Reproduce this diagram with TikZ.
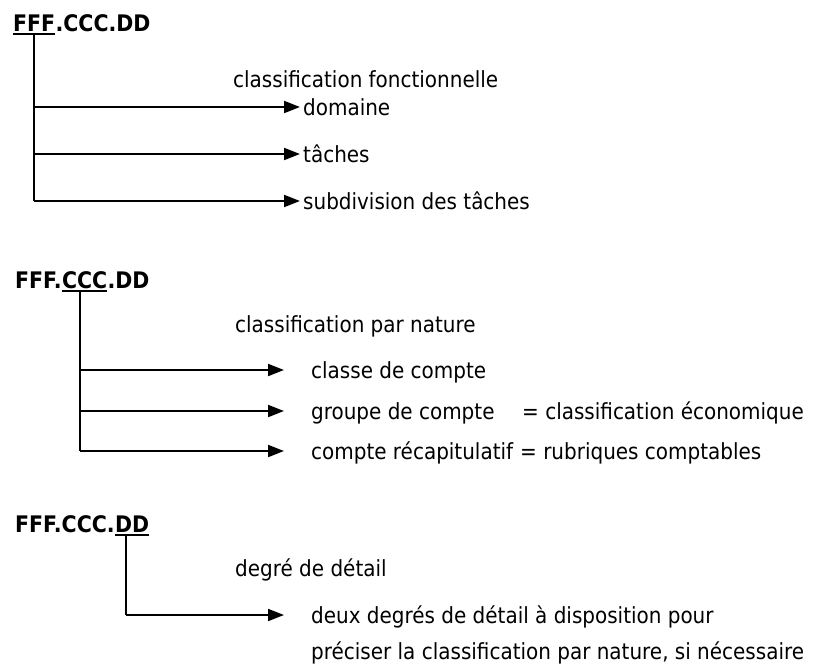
\documentclass[tikz,border=0pt]{standalone}
\usepackage{fontspec}
\setmainfont{DejaVu Sans Condensed}
\usepackage{tikz}
\usetikzlibrary{arrows.meta,positioning,calc}
\newcommand{\codefont}{\fontsize{22.8}{27}\selectfont\bfseries}
\newcommand{\lblfont}{\fontsize{22.2}{27}\selectfont}
\tikzset{
  % code header text (FFF.CCC.DD)
  codetxt/.style={font=\codefont, inner sep=0pt, anchor=base west},
  % underlined part of the code
  ulpart/.style={codetxt, inner ysep=2.5pt},
  % underline rule
  uline/.style={line width=2pt},
  % plain text label
  lbl/.style={font=\lblfont, inner sep=0pt, anchor=west, text height=16pt, text depth=0pt},
  % vertical stem
  stem/.style={line width=2pt},
  % branch arrow
  branch/.style={-{Triangle[length=16pt,width=12pt]}, line width=2pt, shorten >=#1},
  branch/.default={3pt},
}
\begin{document}
\begin{tikzpicture}[x=1pt, y=-1pt]
  \useasboundingbox (0,0) rectangle (819,664);

  % ── Block 1: FFF ──
  \node[ulpart] (u1) at (13,31) {FFF};
  \node[codetxt] (r1) at (u1.base east) {.CCC.DD};
  \draw[uline] (u1.south west) -- (u1.south east);
  \coordinate (s1) at (u1.south);

  \node[lbl] (t1) at (233,79) {classification fonctionnelle};
  \node[lbl] (dom) at (303,107) {domaine};
  \node[lbl] (tac) at (303,154) {tâches};
  \node[lbl] (sub) at (303,201) {subdivision des tâches};

  \draw[stem] (s1) -- (s1 |- sub.west);
  \draw[branch] (s1 |- dom.west) -- (dom.west);
  \draw[branch] (s1 |- tac.west) -- (tac.west);
  \draw[branch] (s1 |- sub.west) -- (sub.west);

  % ── Block 2: CCC ──
  \node[codetxt] (l2) at (15,288) {FFF.};
  \node[ulpart] (u2) at (l2.base east) {CCC};
  \node[codetxt] (r2) at (u2.base east) {.DD};
  \draw[uline] (u2.south west) -- (u2.south east);
  \coordinate (s2) at ($(u2.south west)!0.39!(u2.south east)$);

  \node[lbl] (t2) at (235,324) {classification par nature};
  \node[lbl] (cla) at (311,370) {classe de compte};
  \node[lbl] (gro) at (311,411) {groupe de compte};
  \node[lbl] (rec) at (311,451) {compte récapitulatif};
  \node[lbl] (eco) at (522,411) {= classification économique};
  \node[lbl] (rub) at (520,451) {= rubriques comptables};

  \draw[stem] (s2) -- (s2 |- rec.west);
  \draw[branch=27pt] (s2 |- cla.west) -- (cla.west);
  \draw[branch=27pt] (s2 |- gro.west) -- (gro.west);
  \draw[branch=27pt] (s2 |- rec.west) -- (rec.west);

  % ── Block 3: DD ──
  \node[codetxt] (l3) at (15,532) {FFF.CCC.};
  \node[ulpart] (u3) at (l3.base east) {DD};
  \draw[uline] (u3.south west) -- (u3.south east);
  \coordinate (s3) at ($(u3.south west)!0.33!(u3.south east)$);

  \node[lbl] (t3) at (235,568) {degré de détail};
  \node[lbl] (deg) at (311,615) {deux degrés de détail à disposition pour};
  \node[lbl] (pre) at (311,651) {préciser la classification par nature, si nécessaire};

  \draw[stem] (s3) -- (s3 |- deg.west);
  \draw[branch=27pt] (s3 |- deg.west) -- (deg.west);

\end{tikzpicture}
\end{document}
